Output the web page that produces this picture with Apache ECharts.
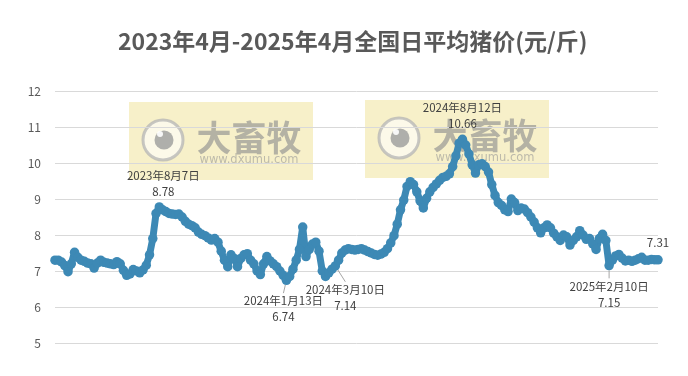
<!DOCTYPE html>
<html>
<head>
<meta charset="utf-8">
<script src="https://cdn.jsdelivr.net/npm/echarts@6/dist/echarts.min.js"></script>
<style>
  html, body { margin: 0; padding: 0; background: #fff; }
  #chart { width: 688px; height: 376px; }
</style>
</head>
<body>
<div id="chart"></div>
<script>
// daily pig price, one reading every 4 days from 2023-04-01
var startDate = '2023-04-01';
var stepDays = 4;
var prices = [
  7.3, 7.3, 7.25, 7.15, 6.98, 7.2, 7.52, 7.38, 7.3, 7.27,
  7.22, 7.2, 7.08, 7.22, 7.3, 7.24, 7.22, 7.2, 7.18, 7.26,
  7.2, 7.02, 6.88, 6.92, 7.04, 7.0, 6.95, 7.03, 7.16, 7.45,
  7.9, 8.6, 8.78, 8.7, 8.65, 8.6, 8.58, 8.57, 8.58, 8.5,
  8.38, 8.3, 8.26, 8.2, 8.08, 8.02, 7.98, 7.92, 7.86, 7.9,
  7.8, 7.55, 7.3, 7.12, 7.45, 7.35, 7.12, 7.35, 7.45, 7.48,
  7.3, 7.2, 7.0, 6.9, 7.2, 7.4, 7.28, 7.2, 7.12, 7.0,
  6.88, 6.74, 6.85, 7.05, 7.3, 7.6, 8.22, 7.4, 7.6, 7.75,
  7.8, 7.55, 7.0, 6.85, 6.95, 7.05, 7.14, 7.3, 7.5, 7.58,
  7.62, 7.6, 7.58, 7.6, 7.62, 7.58, 7.54, 7.5, 7.46, 7.44,
  7.47, 7.52, 7.62, 7.78, 7.98, 8.3, 8.7, 8.97, 9.35, 9.48,
  9.4, 9.2, 8.95, 8.75, 9.02, 9.2, 9.32, 9.42, 9.52, 9.6,
  9.63, 9.7, 9.9, 10.2, 10.55, 10.66, 10.5, 10.25, 9.95, 9.72,
  9.95, 9.98, 9.9, 9.75, 9.4, 9.1, 8.9, 8.82, 8.7, 8.65,
  9.0, 8.9, 8.68, 8.75, 8.72, 8.62, 8.5, 8.36, 8.2, 8.06,
  8.2, 8.28, 8.2, 8.05, 7.95, 7.85, 8.0, 7.95, 7.72, 7.85,
  7.95, 8.12, 8.0, 7.88, 7.9, 7.75, 7.6, 7.9, 8.02, 7.85,
  7.15, 7.3, 7.42, 7.46, 7.36, 7.28, 7.3, 7.27, 7.3, 7.34,
  7.38, 7.3, 7.3, 7.32, 7.31, 7.31
];

// annotated points
var noteIndex = [32, 71, 86, 125, 170, 185];
var noteDate = ['2023年8月7日', '2024年1月13日', '2024年3月10日', '2024年8月12日', '2025年2月10日', ''];

var yMin = 5, yMax = 12, yStep = 1;

var dates = prices.map(function (v, i) {
  var d = new Date(startDate + 'T00:00:00');
  d.setDate(d.getDate() + i * stepDays);
  return d.getFullYear() + '/' + (d.getMonth() + 1) + '/' + d.getDate();
});

// label placement for each annotation: [position, dx, dy, leader]
var notePlace = [
  ['top', 4, -1, false],
  ['bottom', -3, 6, true],
  ['bottom', 10, 9, true],
  ['top', 0, -1, false],
  ['bottom', 0, 6, true],
  ['top', 0, -2, false]
];

var seriesData = prices.map(function (v, i) {
  var k = noteIndex.indexOf(i);
  if (k < 0) return v;
  var txt = noteDate[k] ? noteDate[k] + '\n' + v.toFixed(2) : v.toFixed(2);
  return {
    value: v,
    label: { show: true, position: notePlace[k][0], distance: 2, formatter: txt },
    labelLine: { show: notePlace[k][3], lineStyle: { color: '#a6a6a6', width: 1 } }
  };
});

function watermark(x0, y0) {
  return {
    type: 'group',
    x: x0, y: y0,
    z: 50,
    silent: true,
    children: [
      { type: 'rect', shape: { x: 0, y: 0, width: 184, height: 78 },
        style: { fill: 'rgba(217,183,0,0.21)' } },
      { type: 'circle', shape: { cx: 34, cy: 38, r: 20 },
        style: { fill: 'rgba(255,255,255,0.6)', stroke: 'rgba(180,180,180,0.75)', lineWidth: 3 } },
      { type: 'circle', shape: { cx: 35, cy: 38, r: 9.5 },
        style: { fill: 'rgba(150,150,150,0.75)' } },
      { type: 'circle', shape: { cx: 31, cy: 32, r: 3 },
        style: { fill: 'rgba(255,255,255,0.9)' } },
      { type: 'text', x: 120, y: 36,
        style: { text: '大畜牧', fill: 'rgba(145,145,145,0.65)', font: 'bold 35px "Noto Sans CJK SC"',
                 align: 'center', verticalAlign: 'middle' } },
      { type: 'text', x: 120, y: 58,
        style: { text: 'www.dxumu.com', fill: 'rgba(150,150,150,0.6)', font: '11.5px "DejaVu Sans"',
                 align: 'center', verticalAlign: 'middle' } }
    ]
  };
}

var option = {
  animation: false,
  backgroundColor: '#fff',
  textStyle: { fontFamily: '"Noto Sans CJK SC", "Noto Sans", sans-serif' },
  title: {
    text: '2023年4月-2025年4月全国日平均猪价(元/斤)',
    left: 118,
    top: 28,
    padding: 0,
    textStyle: { fontSize: 23, fontWeight: 'bold', color: '#595959', lineHeight: 26 }
  },
  grid: { left: 55, right: 30, top: 91, bottom: 33 },
  xAxis: {
    type: 'category',
    data: dates,
    boundaryGap: false,
    axisLine: { show: false },
    axisTick: { show: false },
    axisLabel: { show: false },
    splitLine: { show: false }
  },
  yAxis: {
    type: 'value',
    min: yMin, max: yMax, interval: yStep,
    axisLine: { show: false },
    axisTick: { show: false },
    axisLabel: { color: '#595959', fontSize: 12, margin: 14 },
    splitLine: { lineStyle: { color: '#d9d9d9', width: 1 } }
  },
  series: [{
    type: 'line',
    data: seriesData,
    symbol: 'circle',
    symbolSize: 9.5,
    showSymbol: true,
    showAllSymbol: true,
    lineStyle: { width: 7, color: '#3d89b5' },
    itemStyle: { color: '#3d89b5', borderWidth: 0 },
    emphasis: { disabled: true },
    label: { color: '#404040', fontSize: 11.5, lineHeight: 16 },
    labelLayout: function (p) {
      var k = noteIndex.indexOf(p.dataIndex);
      if (k < 0) return {};
      return { dx: notePlace[k][1], dy: notePlace[k][2] };
    }
  }],
  graphic: [watermark(129, 102), watermark(365, 100)]
};

var myChart = echarts.init(document.getElementById('chart'));
myChart.setOption(option, true);
</script>
</body>
</html>
